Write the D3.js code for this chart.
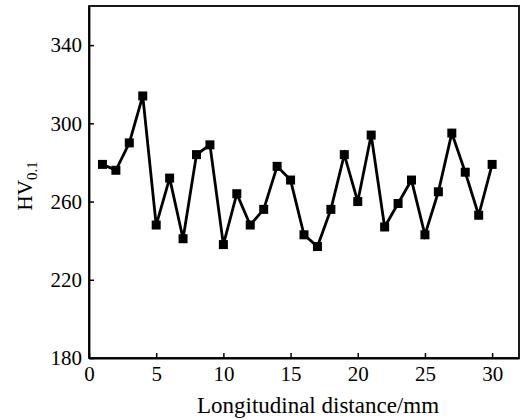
<!DOCTYPE html>
<html>
<head>
<meta charset="utf-8">
<style>
  body { margin: 0; background: #fff; }
  svg text { font-family: "Liberation Serif", "Times New Roman", serif; fill: #000; }
  .axis path, .axis line { stroke: #000; }
</style>
<script src="https://d3js.org/d3.v7.min.js"></script>
</head>
<body>
<svg width="525" height="420"></svg>
<script>
  // values
  const distance = [1, 2, 3, 4, 5, 6, 7, 8, 9, 10, 11, 12, 13, 14, 15,
                    16, 17, 18, 19, 20, 21, 22, 23, 24, 25, 26, 27, 28, 29, 30];
  const hardness = [279, 276, 290, 314, 248, 272, 241, 284, 289, 238, 264, 248, 256, 278, 271,
                    243, 237, 256, 284, 260, 294, 247, 259, 271, 243, 265, 295, 275, 253, 279];
  const xTicks = [0, 5, 10, 15, 20, 25, 30];
  const yTicks = [180, 220, 260, 300, 340];

  const margin = { left: 89, top: 6, right: 6, bottom: 62 };
  const width = 525 - margin.left - margin.right;
  const height = 420 - margin.top - margin.bottom;

  const x = d3.scaleLinear().domain([0, 32]).range([0, width]);
  const y = d3.scaleLinear().domain([180, 360]).range([height, 0]);

  const svg = d3.select('svg');
  const g = svg.append('g').attr('transform', `translate(${margin.left},${margin.top})`);

  // frame
  g.append('rect')
    .attr('width', width).attr('height', height)
    .attr('fill', 'none').attr('stroke', '#000').attr('stroke-width', 1.8);

  const xAxis = g.append('g')
    .attr('class', 'axis')
    .attr('transform', `translate(0,${height})`)
    .call(d3.axisBottom(x).tickValues(xTicks).tickSizeInner(-5).tickSizeOuter(0).tickPadding(8));
  xAxis.select('.domain').attr('stroke-width', 1.8);
  xAxis.selectAll('line').attr('stroke-width', 1.5);
  xAxis.selectAll('text').style('font-size', '21px').attr('dy', '0.72em');

  const yAxis = g.append('g')
    .attr('class', 'axis')
    .call(d3.axisLeft(y).tickValues(yTicks).tickSizeInner(-5).tickSizeOuter(0).tickPadding(7));
  yAxis.select('.domain').attr('stroke-width', 1.8);
  yAxis.selectAll('line').attr('stroke-width', 1.5);
  yAxis.selectAll('text').style('font-size', '21px');

  const line = d3.line()
    .x((d, i) => x(distance[i]))
    .y(d => y(d));

  g.append('path')
    .datum(hardness)
    .attr('fill', 'none')
    .attr('stroke', '#000')
    .attr('stroke-width', 2.8)
    .attr('stroke-linejoin', 'miter')
    .attr('d', line);

  const ms = 9;
  g.selectAll('.marker')
    .data(hardness)
    .enter()
    .append('rect')
    .attr('class', 'marker')
    .attr('x', (d, i) => x(distance[i]) - ms / 2)
    .attr('y', d => y(d) - ms / 2)
    .attr('width', ms)
    .attr('height', ms)
    .attr('fill', '#000');

  // axis titles
  svg.append('text')
    .attr('x', 318)
    .attr('y', 413)
    .attr('text-anchor', 'middle')
    .style('font-size', '23px')
    .text('Longitudinal distance/mm');

  const yt = svg.append('text')
    .attr('transform', `translate(32,${margin.top + y(268)}) rotate(-90)`)
    .attr('text-anchor', 'middle')
    .style('font-size', '21px');
  yt.append('tspan').text('HV');
  yt.append('tspan').attr('dy', 5).style('font-size', '15px').text('0.1');
</script>
</body>
</html>
